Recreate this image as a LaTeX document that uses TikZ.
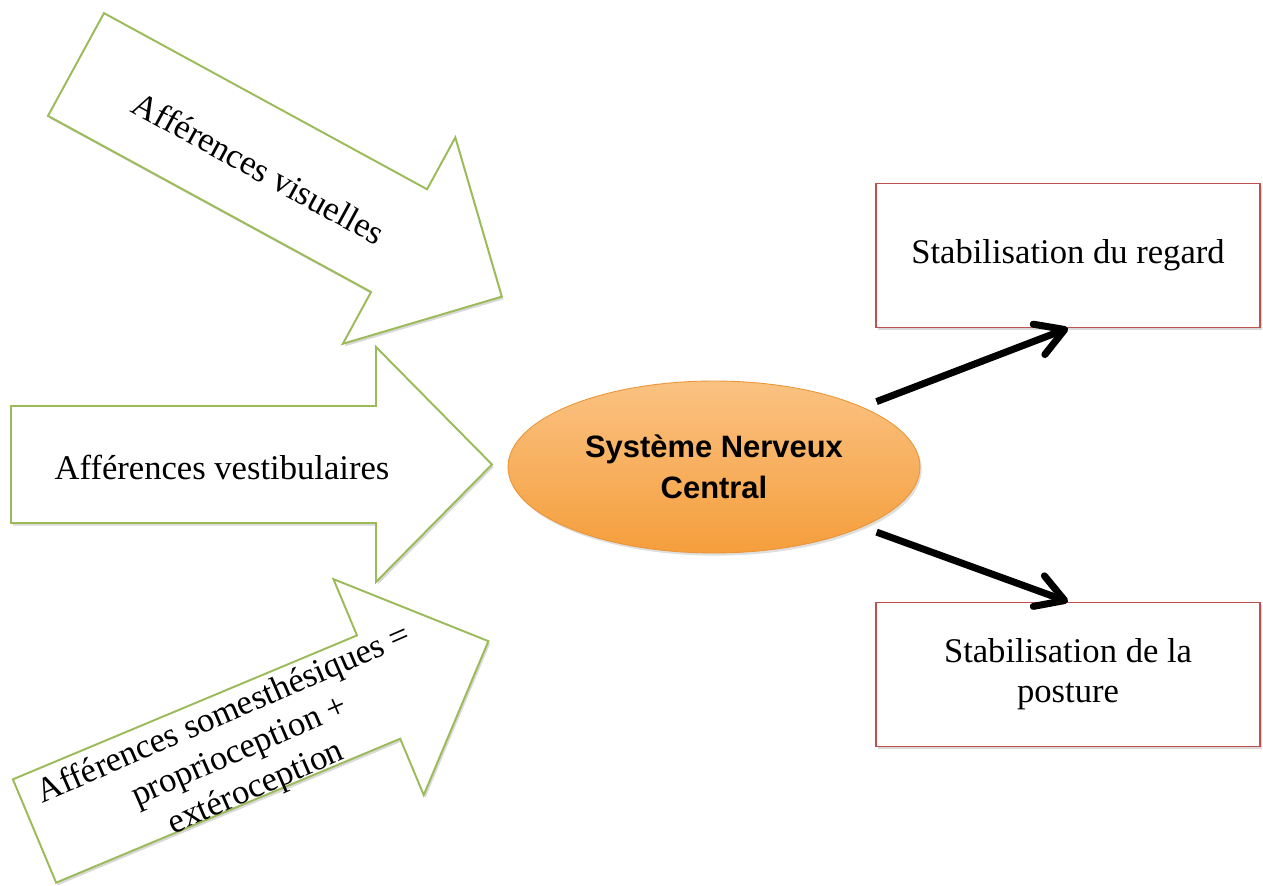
\documentclass[tikz,border=0pt]{standalone}
\usepackage{fontspec}
\setmainfont{Liberation Serif}
\newfontfamily\sncfont{Liberation Sans}
\usepackage{tikz}
\usetikzlibrary{shapes.geometric,arrows.meta,shadows}
\definecolor{vertfl}{HTML}{9BBB59}
\definecolor{rougebd}{HTML}{C0504D}
\definecolor{snchaut}{HTML}{FAC282}
\definecolor{sncbas}{HTML}{F59E3C}
\definecolor{sncbord}{HTML}{E99538}

\begin{document}
\begin{tikzpicture}[x=0.02cm,y=0.02cm,
    fleche/.style={draw=vertfl, line width=1.1pt, fill=white,
      drop shadow={shadow xshift=1pt, shadow yshift=-1.5pt, opacity=.3}},
    txt/.style={font=\fontsize{19.7}{22.8}\selectfont, align=center, inner sep=0pt},
    boite/.style={draw=rougebd, line width=0.9pt, fill=white, align=center,
      minimum width=7.68cm, minimum height=2.88cm, font=\fontsize{19.7}{22.8}\selectfont,
      drop shadow={shadow xshift=1.2pt, shadow yshift=-1.5pt, opacity=.3}},
    sortie/.style={line width=4pt, shorten <=3mm,
      -{Straight Barb[length=5.5mm,width=6.5mm,line width=4pt,round]}}]
    \useasboundingbox (0,0) rectangle (1263,885);

    % afferences
    \begin{scope}[shift={(76,820.5)}, rotate=-28.6]
      \draw[fleche] (0,58.5) -- (368,58.5) -- (368,117.5) -- (485,0) -- (368,-117.5) -- (368,-58.5) -- (0,-58.5) -- cycle;
    \end{scope}
    \begin{scope}[shift={(11,420.5)}]
      \draw[fleche] (0,58.5) -- (365,58.5) -- (365,117.5) -- (481,0) -- (365,-117.5) -- (365,-58.5) -- (0,-58.5) -- cycle;
    \end{scope}
    \begin{scope}[shift={(34.5,54)}, rotate=22.7]
      \draw[fleche] (0,56) -- (373,56) -- (373,117) -- (492,0) -- (373,-117) -- (373,-56) -- (0,-56) -- cycle;
    \end{scope}

    \node[txt, rotate=-28.6] (visu) at (259,717) {Afférences visuelles};
    \node[txt] (vesti) at (222,418) {Afférences vestibulaires};
    \node[txt, rotate=23.5] (soma) at (240,133) {Afférences somesthésiques =\\ proprioception +\\ extéroception};

    % centre
    \node[ellipse, minimum width=8.24cm, minimum height=3.44cm, draw=sncbord, line width=0.5pt,
      top color=snchaut, bottom color=sncbas, align=center,
      font=\sncfont\bfseries\fontsize{17.6}{23.3}\selectfont,
      drop shadow={shadow xshift=1pt, shadow yshift=-1.5pt, opacity=.25}] (snc) at (714,418) {Système Nerveux\\ Central};

    % sorties
    \node[boite] (regard) at (1068,629.5) {Stabilisation du regard};
    \node[boite] (posture) at (1068,210.5) {Stabilisation de la\\ posture};

    \draw[sortie] (snc.22) -- (regard.south);
    \draw[sortie] (snc.-22) -- (posture.north);
\end{tikzpicture}
\end{document}
